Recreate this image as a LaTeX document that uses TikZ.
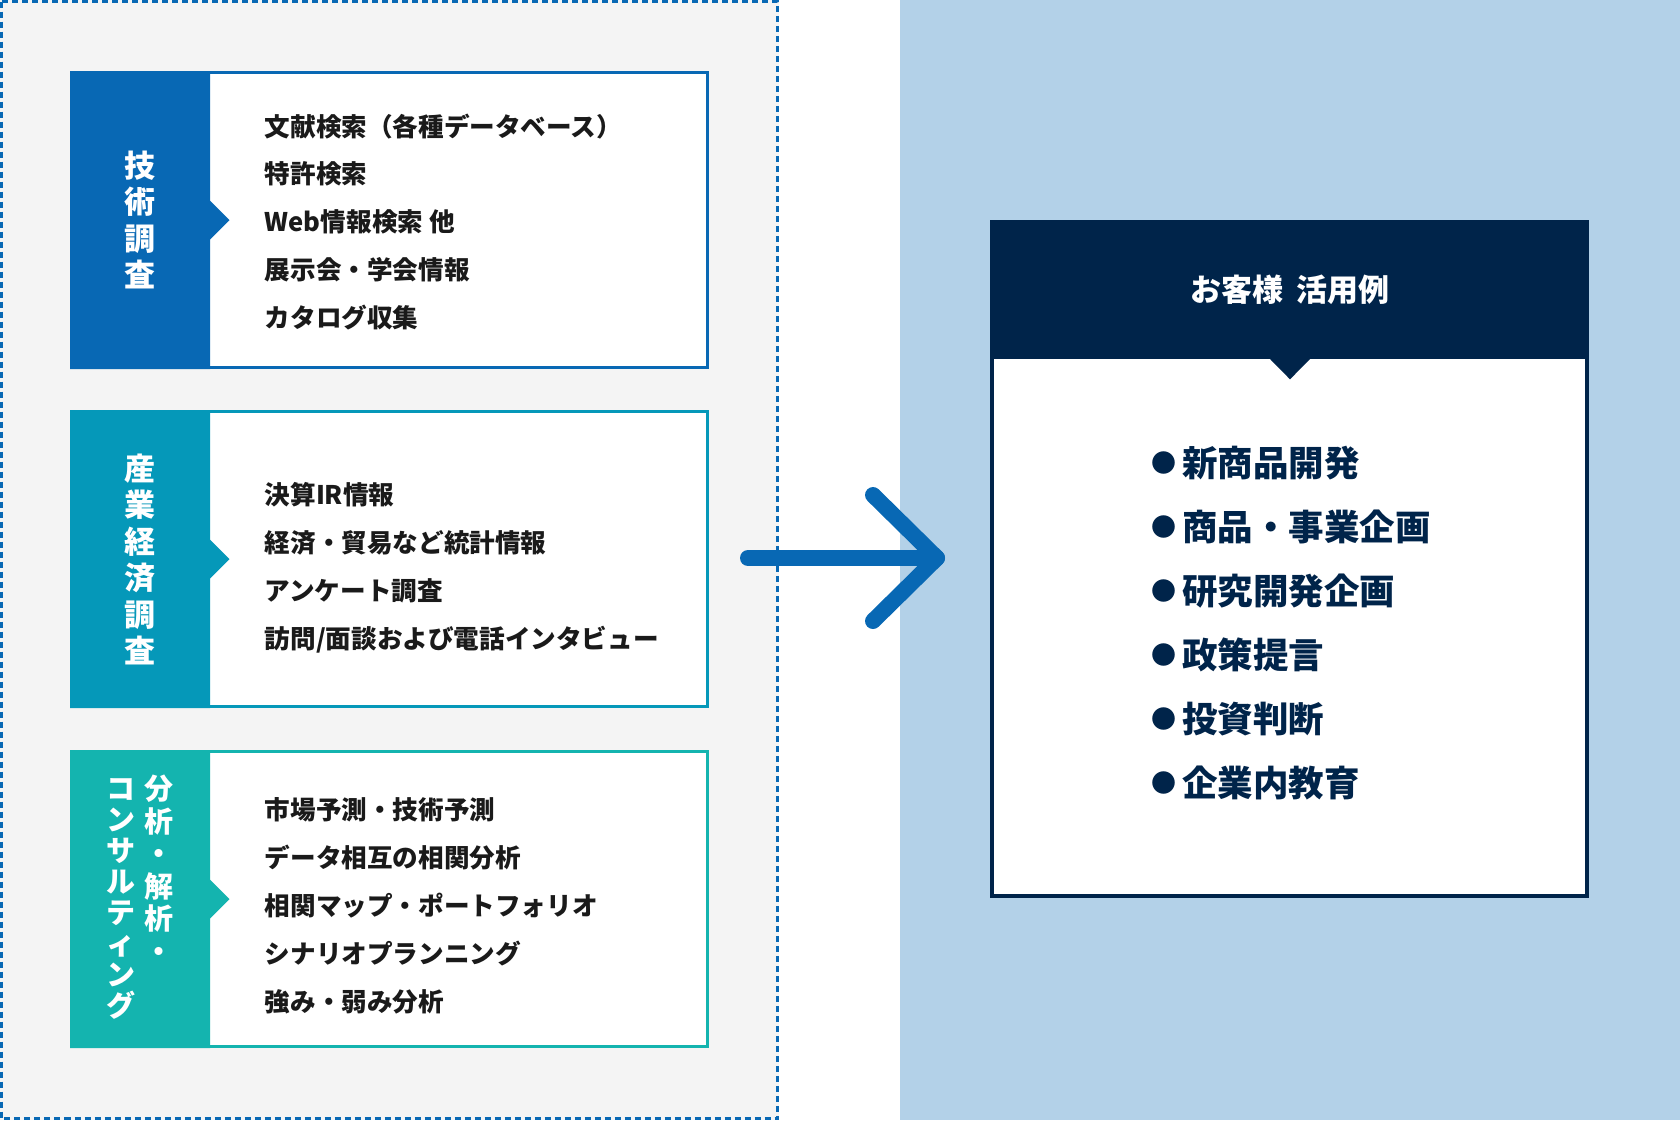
\documentclass[tikz,border=0pt]{standalone}
\usepackage{fontspec}
\setmainfont{Noto Sans CJK JP}
\definecolor{tecblue}{HTML}{0868B4}
\definecolor{indteal}{HTML}{0598B9}
\definecolor{conteal}{HTML}{14B4AF}
\definecolor{panelgrey}{HTML}{F4F4F4}
\definecolor{skyblue}{HTML}{B3D1E8}
\definecolor{navy}{HTML}{00244A}
\definecolor{inkblack}{HTML}{1A1A1A}
\newcommand{\usedot}{\raisebox{4pt}{\fontsize{25}{25}\selectfont ●}\hspace{6pt}}

\tikzset{
  itembox/.style={line width=3pt, fill=white},
  tag/.style={text=white, font=\fontsize{31}{36.5}\selectfont\bfseries, align=center, inner sep=0pt},
  items/.style={text=inkblack, font=\fontsize{25.6}{47.8}\selectfont\bfseries, align=left, anchor=west, inner sep=0pt},
  uses/.style={text=navy, font=\fontsize{35.5}{64}\selectfont\bfseries, align=left, anchor=west, inner sep=0pt},
  arrowline/.style={tecblue, line width=16pt, line cap=round, line join=round},
}

\begin{document}
\begin{tikzpicture}[x=1pt, y=-1pt]
  \useasboundingbox (0,0) rectangle (1680,1120);
  % backgrounds
  \fill[panelgrey] (0,0) rectangle (779,1120);
  \fill[skyblue] (900,0) rectangle (1680,1120);
  \draw[tecblue, line width=3pt, dash pattern=on 6pt off 4pt] (1.5,1.5) rectangle (777.5,1118.5);

  % Technical research
  \draw[itembox, draw=tecblue] (71.5,72.5) rectangle (707.5,367.5);
  \fill[tecblue] (70,71) -- (210,71) -- (210,200.5) -- (229.5,220) -- (210,239.5) -- (210,369) -- (70,369) -- cycle;
  \node[tag] (tec) at (139.5,220) {技\\術\\調\\査};
  \node[items] (tecitems) at (264.6,221.8) {文献検索（各種データベース）\\特許検索\\Web情報検索 他\\展示会・学会情報\\カタログ収集};

  % Industry and economy research
  \draw[itembox, draw=indteal] (71.5,411.5) rectangle (707.5,706.5);
  \fill[indteal] (70,410) -- (210,410) -- (210,539.5) -- (229.5,559) -- (210,578.5) -- (210,708) -- (70,708) -- cycle;
  \node[tag] (ind) at (139.5,559.3) {産\\業\\経\\済\\調\\査};
  \node[items] (inditems) at (264.6,567.8) {決算IR情報\\経済・貿易など統計情報\\アンケート調査\\訪問/面談および電話インタビュー};

  % Analysis and consulting
  \draw[itembox, draw=conteal] (71.5,751.5) rectangle (707.5,1046.5);
  \fill[conteal] (70,750) -- (210,750) -- (210,879.5) -- (229.5,899) -- (210,918.5) -- (210,1048) -- (70,1048) -- cycle;
  \node[tag, font=\fontsize{29}{32.5}\selectfont\bfseries] (anl) at (159,868.8) {分\\析\\・\\解\\析\\・};
  \node[tag, font=\fontsize{29}{31}\selectfont\bfseries] (cns) at (121,898.9) {コ\\ン\\サ\\ル\\テ\\ィ\\ン\\グ};
  \node[items] (cnsitems) at (264.6,905.9) {市場予測・技術予測\\データ相互の相関分析\\相関マップ・ポートフォリオ\\シナリオプランニング\\強み・弱み分析};

  % arrow to the use cases
  \coordinate (arrtail) at (748,558);
  \coordinate (arrtip) at (937,558);
  \draw[arrowline] (arrtail) -- (arrtip);
  \draw[arrowline] (arrtip) ++(-64,-63) -- (arrtip) -- ++(-64,63);

  % Use cases
  \fill[white] (990,219.6) rectangle (1589,897.8);
  \draw[navy, line width=4pt] (992,221.6) rectangle (1587,895.8);
  \fill[navy] (990,219.6) rectangle (1589,359.3);
  \fill[navy] (1270,359) -- (1290,379.3) -- (1310,359) -- cycle;
  \node[text=white, font=\fontsize{31}{36}\selectfont\bfseries] (usetitle) at (1290,289.3) {お客様\hspace{0.4em}活用例};
  \node[uses] (uselist) at (1151,623) {\usedot 新商品開発\\\usedot 商品・事業企画\\\usedot 研究開発企画\\\usedot 政策提言\\\usedot 投資判断\\\usedot 企業内教育};
\end{tikzpicture}
\end{document}
